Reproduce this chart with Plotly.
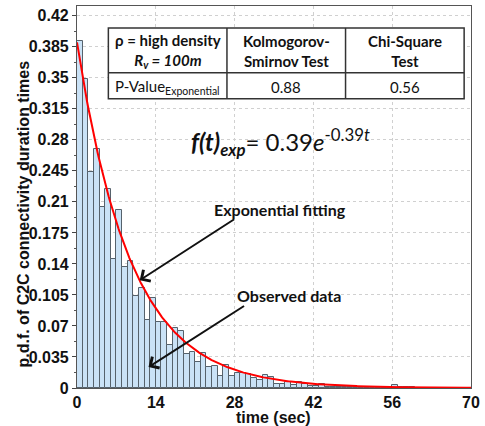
import numpy as np
import plotly.graph_objects as go

# Histogram of connectivity durations, 1-second bins starting at 0
bin_width = 1.0
pdf_values = [
    0.391, 0.349, 0.244, 0.270, 0.204, 0.224, 0.145, 0.201, 0.137, 0.143,
    0.104, 0.1125, 0.077, 0.101, 0.074, 0.074, 0.0485, 0.068, 0.064, 0.038,
    0.041, 0.029, 0.039, 0.024, 0.025, 0.014, 0.026, 0.013, 0.017, 0.017,
    0.016, 0.011, 0.009, 0.015, 0.012, 0.004, 0.005, 0.007, 0.0035, 0.007,
    0.004, 0.0025, 0.0025, 0.004, 0.0015, 0.001, 0.001, 0.001, 0.001, 0.0008,
    0.001, 0.0006, 0.0008, 0.0006, 0.0006, 0.0008, 0.003, 0.001, 0.0006, 0.001,
    0.0005, 0.0005,
]

# Fitted exponential density
fit_amplitude = 0.39
fit_rate = 0.105

x_ticks = [0, 14, 28, 42, 56, 70]
y_ticks = [0, 0.035, 0.07, 0.105, 0.14, 0.175, 0.21, 0.245, 0.28, 0.315, 0.35, 0.385, 0.42]
y_tick_text = ["0", "0.035", "0.07", "0.105", "0.14", "0.175", "0.21", "0.245",
               "0.28", "0.315", "0.35", "0.385", "0.42"]

# Summary table
table_header = ["ρ = high density<br><i>R<sub>v</sub> = 100m</i>",
                "Kolmogorov-<br>Smirnov Test", "Chi-Square<br>Test"]
table_row_label = "P-Value<sub>Exponential</sub>"
p_values = ["0.88", "0.56"]

W, H = 485, 426
ML, MR, MT, MB = 77, 6, 5, 38
PW, PH = W - ML - MR, H - MT - MB


def px(xp):
    return (xp - ML) / PW


def py(yp):
    return (H - MB - yp) / PH


centers = [bin_width * (i + 0.5) for i in range(len(pdf_values))]
t = np.linspace(0, 70, 400)
fit = fit_amplitude * np.exp(-fit_rate * t)

fig = go.Figure()
fig.add_trace(go.Bar(
    x=centers, y=pdf_values, width=bin_width,
    marker=dict(color="#cae2f6", line=dict(color="#56626c", width=1)),
    showlegend=False,
))
fig.add_trace(go.Scatter(
    x=t, y=fit, mode="lines", line=dict(color="#ff0000", width=2),
    showlegend=False,
))

tick_font = dict(family="Liberation Sans, Arial", size=16, color="#111", weight="bold")
fig.update_xaxes(
    range=[0, 70], tickvals=x_ticks, ticks="",
    tickfont=tick_font, showline=True, linecolor="#555", linewidth=1.2, mirror=True,
    showgrid=True, gridcolor="#d0d0d0", griddash="dot", gridwidth=1, zeroline=False,
    ticklabeloverflow="allow",
)
fig.update_yaxes(
    range=[0, 0.431], tickvals=y_ticks, ticktext=y_tick_text, ticks="outside", ticklen=4,
    tickfont=tick_font, showline=True, linecolor="#555", linewidth=1.2, mirror=True,
    showgrid=True, gridcolor="#d0d0d0", griddash="dot", gridwidth=1, zeroline=False,
    minor=dict(dtick=0.0175, ticks="outside", ticklen=2, tickcolor="#555", showgrid=False),
)

shapes = []
tbl_l, tbl_r, tbl_t, tbl_b = 109, 472, 27, 98
col_div = [230, 351]
row_div = 72
line_style = dict(color="#333", width=1.5)
shapes.append(dict(type="rect", xref="paper", yref="paper",
                   x0=px(tbl_l), x1=px(tbl_r), y0=py(tbl_b), y1=py(tbl_t),
                   fillcolor="white", line=line_style, layer="above"))
for c in col_div:
    shapes.append(dict(type="line", xref="paper", yref="paper",
                       x0=px(c), x1=px(c), y0=py(tbl_b), y1=py(tbl_t), line=line_style))
shapes.append(dict(type="line", xref="paper", yref="paper",
                   x0=px(tbl_l), x1=px(tbl_r), y0=py(row_div), y1=py(row_div), line=line_style))

annotations = []
txt_font = "Lato, Open Sans, sans-serif"


def label(xp, yp, text, **kw):
    d = dict(x=px(xp), y=py(yp), xref="paper", yref="paper", text=text,
             showarrow=False, xanchor="center", yanchor="middle")
    d.update(kw)
    annotations.append(d)


col_centers = [(tbl_l + col_div[0]) / 2, (col_div[0] + col_div[1]) / 2, (col_div[1] + tbl_r) / 2]
for cx, txt in zip(col_centers, table_header):
    label(cx, (tbl_t + row_div) / 2 + 1, txt, align="center",
          font=dict(family=txt_font, size=15, color="#111", weight="bold"))
row_cells = [table_row_label] + p_values
for cx, txt in zip(col_centers, row_cells):
    label(cx, (row_div + tbl_b) / 2 + 1, txt, font=dict(family=txt_font, size=15, color="#111"))

# Fitted equation
label(191, 141, "<b><i>f(t)<sub>exp</sub></i></b>= 0.39<i>e</i><sup>-0.39<i>t</i></sup>",
      xanchor="left", font=dict(family=txt_font, size=24, color="#111"))

# Callout labels and arrows
label(284, 209, "Exponential fitting",
      font=dict(family=txt_font, size=16, color="#111", weight="bold"))
label(293, 295, "Observed data",
      font=dict(family=txt_font, size=16, color="#111", weight="bold"))
for (hx, hy, tx, ty) in [(141, 280, 237, 218), (150, 367, 247, 305)]:
    annotations.append(dict(x=px(hx), y=py(hy), xref="paper", yref="paper", text="",
                            showarrow=True, ax=tx - hx, ay=ty - hy, axref="pixel", ayref="pixel",
                            arrowhead=4, arrowsize=1.3, arrowwidth=2, arrowcolor="#111"))

# Axis titles
label(22, 214, "p.d.f. of C2C connectivity duration times", textangle=-90,
      font=dict(family="Liberation Sans, Arial", size=16, color="#111", weight="bold"))
label(277, 418, "time (sec)",
      font=dict(family="Liberation Sans, Arial", size=16, color="#111", weight="bold"))

fig.update_layout(
    width=W, height=H, margin=dict(l=ML, r=MR, t=MT, b=MB),
    paper_bgcolor="white", plot_bgcolor="white", bargap=0,
    shapes=shapes, annotations=annotations,
)

fig.write_html("out.html")
